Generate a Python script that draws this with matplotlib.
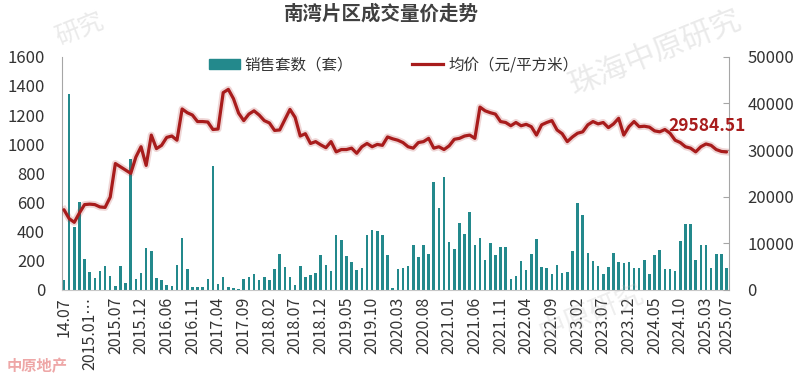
# 南湾片区成交量价走势 -- 柱状(销售套数) + 折线(均价) 双轴图

import numpy as np
import matplotlib
matplotlib.use('Agg')
import matplotlib.pyplot as plt
from matplotlib.patches import Patch
from matplotlib.lines import Line2D

plt.rcParams['font.family'] = ['Noto Sans CJK SC', 'DejaVu Sans']

# 销售套数（套），按月
sales = [68, 1347, 434, 605, 212, 125, 84, 130, 164, 96,
         27, 164, 48, 900, 75, 119, 287, 267, 84, 68,
         34, 27, 171, 354, 142, 18, 18, 18, 73, 849,
         39, 91, 23, 11, 5, 73, 91, 107, 69, 87,
         69, 142, 245, 160, 87, 34, 164, 91, 100, 114,
         240, 171, 132, 377, 342, 233, 192, 137, 148, 377,
         411, 404, 377, 240, 11, 142, 148, 167, 308, 224,
         308, 247, 742, 559, 776, 331, 279, 457, 384, 537,
         308, 354, 205, 320, 240, 292, 292, 73, 96, 198,
         137, 244, 347, 155, 148, 110, 171, 114, 121, 269,
         598, 514, 251, 199, 164, 107, 155, 251, 194, 187,
         194, 148, 148, 205, 110, 240, 274, 142, 142, 130,
         336, 452, 452, 205, 308, 308, 148, 247, 247, 148]

# 均价（元/平方米），按月
price = [17200, 15300, 14500, 16500, 18300, 18400, 18300, 17800, 17700, 19900,
         27100, 26400, 25700, 25000, 28500, 30700, 26700, 33200, 30300, 31000,
         32700, 33000, 32100, 38800, 38000, 37500, 36100, 36100, 36000, 34400,
         34500, 42300, 43000, 41000, 37900, 36300, 37700, 38400, 37500, 36300,
         35800, 34200, 34300, 36500, 38700, 37000, 33000, 33500, 31400, 31800,
         31100, 30500, 31800, 29600, 30100, 30100, 30400, 29300, 30700, 31400,
         30700, 31200, 31000, 32800, 32400, 32100, 31600, 30700, 30400, 31600,
         31800, 32500, 30400, 30700, 30100, 30900, 32300, 32500, 33000, 33200,
         32500, 39200, 38400, 38000, 37700, 36100, 35900, 35200, 35900, 35200,
         35500, 35000, 33200, 35400, 35900, 36300, 34300, 33500, 31800, 32800,
         33600, 33900, 35400, 36100, 35600, 35900, 34800, 35600, 36800, 33200,
         35000, 36100, 35000, 35100, 34900, 34100, 33900, 34400, 33600, 32100,
         31600, 30700, 30400, 29600, 30700, 31300, 31000, 30100, 29700, 29584.51]

# x轴标签（每5个月一个，最后一个为2025.07）
tick_labels = ['14.07', '2015.01…', '2015.07', '2015.12', '2016.06', '2016.11',
               '2017.04', '2017.09', '2018.02', '2018.07', '2018.12', '2019.05',
               '2019.10', '2020.03', '2020.08', '2021.01', '2021.06', '2021.11',
               '2022.04', '2022.09', '2023.02', '2023.07', '2023.12', '2024.05',
               '2024.10', '2025.03', '2025.07']

bar_color = '#23898C'
line_color = '#A81C1C'
text_color = '#333333'

x = np.arange(len(sales))
tick_pos = list(range(0, len(sales), 5)) + [len(sales) - 1]

fig = plt.figure(figsize=(7.99, 3.77), dpi=100)
ax = fig.add_axes([0.0772, 0.2308, 0.8356, 0.6188])
ax2 = ax.twinx()

# 柱状图
ax.bar(x, sales, width=0.5, color=bar_color, zorder=2)
ax.set_xlim(-0.45, len(sales) - 0.45)
ax.set_ylim(0, 1600)
ax.set_yticks(range(0, 1601, 200))
ax.set_xticks(tick_pos)
ax.set_xticklabels(tick_labels, rotation=90)
ax.tick_params(axis='y', length=0, pad=12, labelsize=12, labelcolor=text_color)
ax.tick_params(axis='x', length=0, pad=5, labelsize=11.5, labelcolor=text_color)
for s in ['top', 'right']:
    ax.spines[s].set_visible(False)
ax.spines['left'].set_color('#A6A6A6')
ax.spines['bottom'].set_color('#C8C8C8')

# 均价折线 (带一点阴影)
ax2.plot(x, price, color=line_color, lw=5, alpha=0.18, solid_joinstyle='round')
ax2.plot(x, price, color=line_color, lw=2.3, solid_joinstyle='round', solid_capstyle='round')
ax2.set_ylim(0, 50000)
ax2.set_yticks(range(0, 50001, 10000))
ax2.tick_params(axis='y', direction='in', length=4, color='#A6A6A6', pad=13,
                labelsize=12, labelcolor=text_color)
for s in ['top', 'left', 'bottom']:
    ax2.spines[s].set_visible(False)
ax2.spines['right'].set_color('#A6A6A6')

# 最新均价标注
ax2.annotate(f'{price[-1]:.2f}', xy=(x[-1], price[-1]), xytext=(-14, 19),
             textcoords='offset points', ha='center', va='center',
             fontsize=12.5, fontweight='bold', color=line_color)

# 标题
fig.text(0.477, 1 - 13.5 / 377, '南湾片区成交量价走势', ha='center', va='center',
         fontsize=14, fontweight='bold', color='#404040')

# 图例
handles = [Patch(color=bar_color), Line2D([0], [0], color=line_color, lw=2.3)]
fig.legend(handles, ['销售套数（套）', '均价（元/平方米）'], loc='center',
           bbox_to_anchor=(0.4925, 0.8276), ncol=2, frameon=False, fontsize=11.2,
           handlelength=2.0, handleheight=0.6, handletextpad=0.3, columnspacing=3.8,
           labelcolor=text_color)

# 水印
fig.text(0.82, 0.86, '珠海中原研究', rotation=22, fontsize=22, color='#BBBBBB',
         alpha=0.3, ha='center', va='center', zorder=0)
fig.text(0.10, 0.92, '研究', rotation=22, fontsize=18, color='#BBBBBB',
         alpha=0.3, ha='center', va='center', zorder=0)
fig.text(0.74, 0.17, '中原研究', rotation=22, fontsize=20, color='#BBBBBB',
         alpha=0.25, ha='center', va='center', zorder=0)
fig.text(0.008, 0.03, '中原地产', fontsize=11, color='#E06060', alpha=0.55,
         ha='left', va='center', fontweight='bold', zorder=0)

plt.savefig('out.png', dpi=100)
